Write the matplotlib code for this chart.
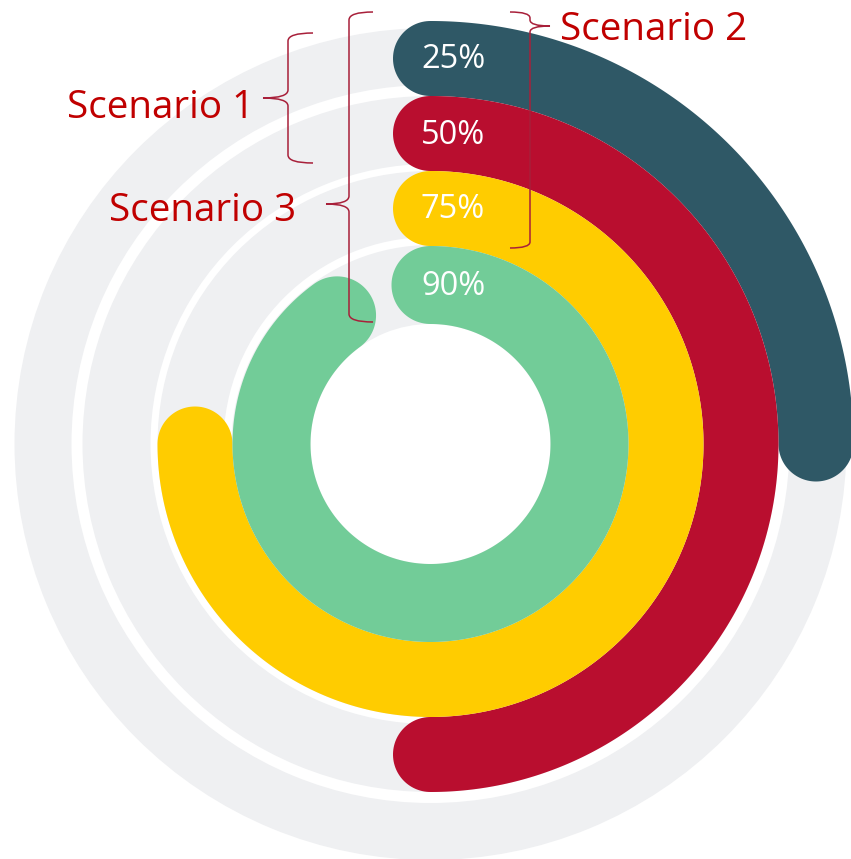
import numpy as np
import matplotlib.pyplot as plt
from matplotlib.path import Path
from matplotlib.patches import PathPatch, Wedge

# data
labels = ["25%", "50%", "75%", "90%"]
values = [25, 50, 75, 90]
colors = ["#2f5866", "#b90e2f", "#ffcc00", "#72cc98"]
scenarios = ["Scenario 1", "Scenario 2", "Scenario 3"]

# layout (pixel units, y pointing down)
W, H = 851, 859
cx, cy = 430.5, 444
ring_edges = [423, 348, 273, 198, 120]          # outer -> inner edges of coloured rings
track_edges = [(359, 416), (280, 348), (207, 273), (120, 199)]
track_color = "#eff0f2"
text_red = "#c00000"
brace_red = "#a8203a"
font = "Open Sans"


def bar_path(r_out, r_in, frac, n=400):
    # arc from 12 o'clock clockwise, rounded caps at both ends
    rm = (r_out + r_in) / 2
    hw = (r_out - r_in) / 2
    t1 = -90.0
    t2 = -90.0 + 360.0 * frac / 100
    a = np.radians(np.linspace(t1, t2, n))
    outer = np.c_[cx + r_out * np.cos(a), cy + r_out * np.sin(a)]
    inner = np.c_[cx + r_in * np.cos(a[::-1]), cy + r_in * np.sin(a[::-1])]
    # end cap
    ea = np.radians(t2)
    ec = (cx + rm * np.cos(ea), cy + rm * np.sin(ea))
    ph = np.linspace(0, np.pi, 60)
    end_cap = np.c_[ec[0] + hw * np.cos(ea + ph), ec[1] + hw * np.sin(ea + ph)]
    # start cap
    sa = np.radians(t1)
    sc = (cx + rm * np.cos(sa), cy + rm * np.sin(sa))
    start_cap = np.c_[sc[0] + hw * np.cos(sa + np.pi + ph), sc[1] + hw * np.sin(sa + np.pi + ph)]
    verts = np.vstack([outer, end_cap, inner, start_cap, outer[:1]])
    return Path(verts, closed=True)


def brace(ax, x, y_top, y_bot, y_mid, arm, tip, c=8):
    # arm > 0 : arms go right, tip goes left ; arm < 0 : mirrored
    verts = [
        (x + arm, y_top), (x, y_top), (x, y_top + c),
        (x, y_mid - c), (x, y_mid), (x - tip, y_mid),
        (x, y_mid), (x, y_mid + c),
        (x, y_bot - c), (x, y_bot), (x + arm, y_bot),
    ]
    codes = [Path.MOVETO, Path.CURVE3, Path.CURVE3,
             Path.LINETO, Path.CURVE3, Path.CURVE3,
             Path.CURVE3, Path.CURVE3,
             Path.LINETO, Path.CURVE3, Path.CURVE3]
    ax.add_patch(PathPatch(Path(verts, codes), fill=False, edgecolor=brace_red, lw=1.1))


fig = plt.figure(figsize=(W / 100, H / 100), dpi=100)
ax = fig.add_axes([0, 0, 1, 1])
ax.set_xlim(0, W)
ax.set_ylim(H, 0)
ax.axis("off")

# background tracks
for r_in, r_out in track_edges:
    ax.add_patch(Wedge((cx, cy), r_out, 0, 360, width=r_out - r_in, color=track_color, lw=0))

# coloured bars + value labels
for i, (lab, v, col) in enumerate(zip(labels, values, colors)):
    r_out, r_in = ring_edges[i], ring_edges[i + 1]
    ax.add_patch(PathPatch(bar_path(r_out, r_in, v), facecolor=col, edgecolor="none"))
    rm = (r_out + r_in) / 2
    ax.text(cx - 9.5, cy - rm + 10, lab, ha="left", va="baseline", color="white",
            fontsize=23.5, family=font)

# scenario annotations
brace(ax, 288, 33, 163, 98, 25, 25)
brace(ax, 530, 12, 248, 26, -20, -20, c=6)
brace(ax, 349, 12, 322, 204, 24, 23)

ax.text(254, 118, scenarios[0], ha="right", va="baseline", color=text_red, fontsize=27.8, family=font)
ax.text(560, 40, scenarios[1], ha="left", va="baseline", color=text_red, fontsize=27.8, family=font)
ax.text(296, 221, scenarios[2], ha="right", va="baseline", color=text_red, fontsize=27.8, family=font)

fig.savefig("out.png", dpi=100)
